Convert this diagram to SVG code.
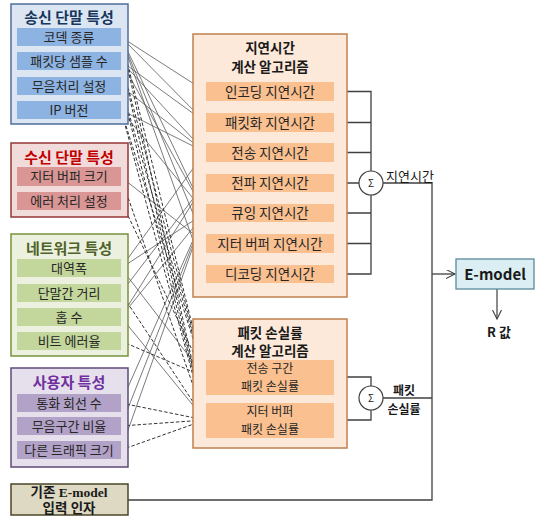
<svg xmlns="http://www.w3.org/2000/svg" width="536" height="517" viewBox="0 0 536 517">
<defs>
<marker id="ah" markerUnits="userSpaceOnUse" markerWidth="9" markerHeight="8" refX="7" refY="3" orient="auto">
<path d="M0,0 L7,3 L0,6" fill="none" stroke="#404040" stroke-width="0.9"/>
</marker>
<marker id="ahb" markerUnits="userSpaceOnUse" markerWidth="12" markerHeight="12" refX="9" refY="4.5" orient="auto">
<path d="M0,0 L9,4.5 L0,9" fill="none" stroke="#404040" stroke-width="1.1"/>
</marker>
<style>
text{font-family:"Noto Sans CJK KR","Noto Sans",sans-serif;text-anchor:middle;}
.it{font-size:13px;fill:#262626;}
.ait{font-size:13.5px;fill:#262626;}
.ait2{font-size:12px;fill:#262626;}
.gt{font-size:15px;font-weight:bold;}
.at{font-size:13.5px;font-weight:bold;fill:#1a1a1a;}
.b1{fill:#dce6f2;stroke:#4f6d9a;stroke-width:1.5;}
.i1{fill:#8db3e2;}
.b2{fill:#f2dcdb;stroke:#953735;stroke-width:1.5;}
.i2{fill:#d99694;}
.b3{fill:#ebf1de;stroke:#77933c;stroke-width:1.5;}
.i3{fill:#c3d69b;}
.b4{fill:#e5e0ec;stroke:#5f497a;stroke-width:1.5;}
.i4{fill:#b3a2c7;}
.ab{fill:#fde9d9;stroke:#c0804d;stroke-width:1.5;}
.ai{fill:#fac090;}
.s{fill:none;stroke:#595959;stroke-width:0.8;marker-end:url(#ah);}
.d{fill:none;stroke:#333;stroke-width:1;stroke-dasharray:3.5,2;marker-end:url(#ah);}
.w{fill:none;stroke:#404040;stroke-width:1.3;}
.sig{fill:#fff;stroke:#404040;stroke-width:1.2;}
</style>
</defs>

<g id="connectors">
<line class="s" x1="121" y1="37" x2="205" y2="91"/>
<line class="s" x1="121" y1="37" x2="205" y2="122"/>
<line class="s" x1="121" y1="37" x2="205" y2="213"/>
<line class="s" x1="121" y1="37" x2="205" y2="243"/>
<line class="s" x1="121" y1="37" x2="205" y2="274"/>
<line class="s" x1="121" y1="61" x2="205" y2="122"/>
<line class="s" x1="121" y1="61" x2="205" y2="152"/>
<line class="s" x1="121" y1="61" x2="205" y2="213"/>
<line class="s" x1="121" y1="86" x2="205" y2="152"/>
<line class="s" x1="121" y1="110" x2="205" y2="152"/>
<line class="s" x1="121" y1="110" x2="205" y2="213"/>
<line class="s" x1="121" y1="177" x2="205" y2="243"/>
<line class="s" x1="121" y1="268" x2="205" y2="152"/>
<line class="s" x1="121" y1="268" x2="205" y2="213"/>
<line class="s" x1="121" y1="293" x2="205" y2="183"/>
<line class="s" x1="121" y1="317" x2="205" y2="183"/>
<line class="s" x1="121" y1="317" x2="205" y2="213"/>
<line class="s" x1="121" y1="403" x2="205" y2="213"/>
<line class="s" x1="121" y1="426" x2="205" y2="213"/>
<line class="s" x1="121" y1="450" x2="205" y2="213"/>
<line class="s" x1="121" y1="268" x2="205" y2="377"/>
<line class="s" x1="121" y1="317" x2="205" y2="420"/>

<line class="d" x1="121" y1="37" x2="205" y2="377"/>
<line class="d" x1="121" y1="37" x2="205" y2="420"/>
<line class="d" x1="121" y1="61" x2="205" y2="377"/>
<line class="d" x1="121" y1="61" x2="205" y2="420"/>
<line class="d" x1="121" y1="86" x2="205" y2="377"/>
<line class="d" x1="121" y1="86" x2="205" y2="420"/>
<line class="d" x1="121" y1="110" x2="205" y2="377"/>
<line class="d" x1="121" y1="110" x2="205" y2="420"/>
<line class="d" x1="121" y1="177" x2="205" y2="420"/>
<line class="d" x1="121" y1="201" x2="205" y2="377"/>
<line class="d" x1="121" y1="293" x2="205" y2="420"/>
<line class="d" x1="121" y1="341" x2="205" y2="377"/>
<line class="d" x1="121" y1="403" x2="205" y2="420"/>
<line class="d" x1="121" y1="426" x2="205" y2="420"/>
<line class="d" x1="121" y1="450" x2="205" y2="420"/>

<path class="w" d="M334,91.5 H371 V171 M334,122.5 H371 M334,152.5 H371 M334,183 H359 M371,195 V274 H334 M334,213 H371 M334,243.5 H371"/>
<path class="w" d="M334,377 H371 V386 M371,410 V420 H334"/>
<path class="w" d="M383,183 H432 V500 H128"/>
<path class="w" d="M383,398 H432"/>
<line x1="432" y1="274" x2="455" y2="274" stroke="#404040" stroke-width="1.3" marker-end="url(#ahb)"/>
<line x1="497" y1="289" x2="497" y2="319" stroke="#404040" stroke-width="1.2" marker-end="url(#ahb)"/>
</g>

<g id="sender">
<rect class="b1" x="11" y="4" width="117" height="120"/>
<text class="gt" x="69" y="23" fill="#17375e">송신 단말 특성</text>
<rect class="i1" x="17" y="28" width="104" height="18"/>
<text class="it" x="69" y="41.5">코덱 종류</text>
<rect class="i1" x="17" y="52" width="104" height="18"/>
<text class="it" x="69" y="65.5">패킷당 샘플 수</text>
<rect class="i1" x="17" y="77" width="104" height="18"/>
<text class="it" x="69" y="90.5">무음처리 설정</text>
<rect class="i1" x="17" y="101" width="104" height="18"/>
<text class="it" x="69" y="114.5">IP 버전</text>
</g>

<g id="receiver">
<rect class="b2" x="11" y="143" width="117" height="74"/>
<text class="gt" x="69" y="163" fill="#c00000">수신 단말 특성</text>
<rect class="i2" x="17" y="167" width="104" height="19"/>
<text class="it" x="69" y="181">지터 버퍼 크기</text>
<rect class="i2" x="17" y="192" width="104" height="18"/>
<text class="it" x="69" y="205.5">에러 처리 설정</text>
</g>

<g id="network">
<rect class="b3" x="11" y="234" width="117" height="122"/>
<text class="gt" x="69" y="254" fill="#4f6228">네트워크 특성</text>
<rect class="i3" x="17" y="259" width="104" height="18"/>
<text class="it" x="69" y="272.5">대역폭</text>
<rect class="i3" x="17" y="284" width="104" height="18"/>
<text class="it" x="69" y="297.5">단말간 거리</text>
<rect class="i3" x="17" y="308" width="104" height="18"/>
<text class="it" x="69" y="321.5">홉 수</text>
<rect class="i3" x="17" y="332" width="104" height="18"/>
<text class="it" x="69" y="345.5">비트 에러율</text>
</g>

<g id="user">
<rect class="b4" x="11" y="368" width="117" height="99"/>
<text class="gt" x="69" y="388" fill="#7030a0">사용자 특성</text>
<rect class="i4" x="17" y="394" width="104" height="18"/>
<text class="it" x="69" y="407.5">통화 회선 수</text>
<rect class="i4" x="17" y="417" width="104" height="18"/>
<text class="it" x="69" y="430.5">무음구간 비율</text>
<rect class="i4" x="17" y="441" width="104" height="18"/>
<text class="it" x="69" y="454.5">다른 트래픽 크기</text>
</g>

<g id="base-input">
<rect x="11" y="484" width="117" height="31" fill="#ddd9c3" stroke="#4a452a" stroke-width="1.5"/>
<text x="69" y="497" style="font-family:'Liberation Serif','Noto Sans CJK KR',serif;font-size:13.5px;font-weight:bold;fill:#1a1a1a">기존 E-model</text>
<text x="69" y="512.5" style="font-family:'Liberation Serif','Noto Sans CJK KR',serif;font-size:13.5px;font-weight:bold;fill:#1a1a1a">입력 인자</text>
</g>

<g id="delay-alg">
<rect class="ab" x="193" y="34" width="154" height="263"/>
<text class="at" x="270" y="53">지연시간</text>
<text class="at" x="270" y="72">계산 알고리즘</text>
<rect class="ai" x="206" y="82" width="128" height="19"/>
<text class="ait" x="270" y="96.5">인코딩 지연시간</text>
<rect class="ai" x="206" y="113" width="128" height="19"/>
<text class="ait" x="270" y="127.5">패킷화 지연시간</text>
<rect class="ai" x="206" y="143" width="128" height="19"/>
<text class="ait" x="270" y="157.5">전송 지연시간</text>
<rect class="ai" x="206" y="174" width="128" height="18"/>
<text class="ait" x="270" y="188">전파 지연시간</text>
<rect class="ai" x="206" y="204" width="128" height="18"/>
<text class="ait" x="270" y="218">큐잉 지연시간</text>
<rect class="ai" x="206" y="234" width="128" height="19"/>
<text class="ait" x="270" y="248.5">지터 버퍼 지연시간</text>
<rect class="ai" x="206" y="265" width="128" height="18"/>
<text class="ait" x="270" y="279">디코딩 지연시간</text>
</g>

<g id="loss-alg">
<rect class="ab" x="193" y="319" width="154" height="129"/>
<text class="at" x="270" y="338">패킷 손실률</text>
<text class="at" x="270" y="356">계산 알고리즘</text>
<rect class="ai" x="206" y="360" width="128" height="35"/>
<text class="ait2" x="270" y="373">전송 구간</text>
<text class="ait2" x="270" y="391">패킷 손실률</text>
<rect class="ai" x="206" y="403" width="128" height="35"/>
<text class="ait2" x="270" y="416">지터 버퍼</text>
<text class="ait2" x="270" y="434">패킷 손실률</text>
</g>

<g id="sum-delay">
<circle class="sig" cx="371" cy="183" r="12"/>
<text x="371" y="187" style="font-size:10px;fill:#262626">Σ</text>
<text x="410" y="181" style="font-size:13px;fill:#1a1a1a">지연시간</text>
</g>

<g id="sum-loss">
<circle class="sig" cx="371" cy="398" r="12"/>
<text x="371" y="402" style="font-size:10px;fill:#262626">Σ</text>
<text x="404" y="395" style="font-size:12px;font-weight:bold;fill:#1a1a1a">패킷</text>
<text x="404" y="413.5" style="font-size:12px;font-weight:bold;fill:#1a1a1a">손실률</text>
</g>

<g id="emodel">
<rect x="456" y="259" width="78" height="30" fill="#dbeef4" stroke="#5b8a99" stroke-width="1.3"/>
<text x="495" y="279.5" style="font-size:15px;font-weight:bold;fill:#1a1a1a">E-model</text>
</g>

<g id="rvalue">
<text x="499" y="337" style="font-size:13px;font-weight:bold;fill:#1a1a1a">R 값</text>
</g>
</svg>
